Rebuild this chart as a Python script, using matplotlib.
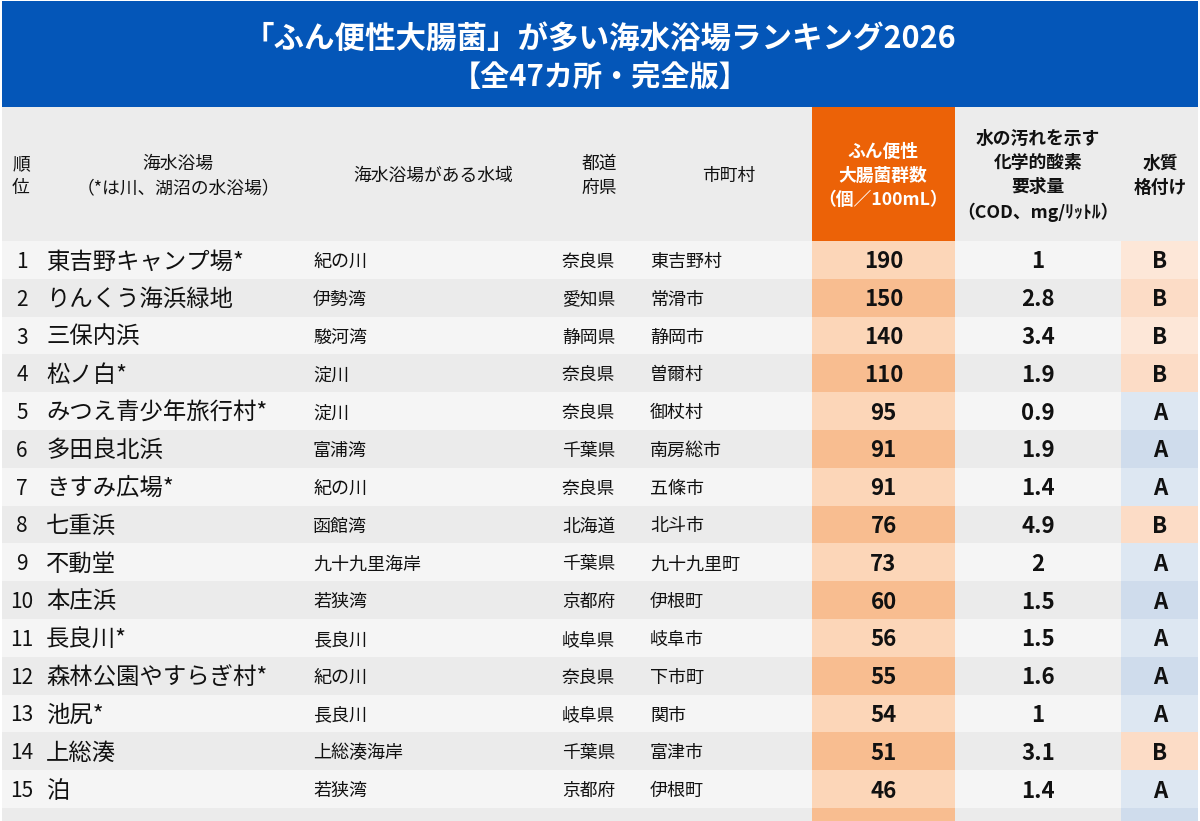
import matplotlib
matplotlib.use("Agg")
import matplotlib.pyplot as plt

plt.rcParams['font.family'] = ['Noto Sans CJK JP', 'DejaVu Sans']

# ---------------- data ----------------
title_line1 = "「ふん便性大腸菌」が多い海水浴場ランキング2026"
title_line2 = "【全47カ所・完全版】"

ranks = list(range(1, 16))
beaches = ["東吉野キャンプ場*", "りんくう海浜緑地", "三保内浜", "松ノ白*", "みつえ青少年旅行村*",
           "多田良北浜", "きすみ広場*", "七重浜", "不動堂", "本庄浜",
           "長良川*", "森林公園やすらぎ村*", "池尻*", "上総湊", "泊"]
waters = ["紀の川", "伊勢湾", "駿河湾", "淀川", "淀川",
          "富浦湾", "紀の川", "函館湾", "九十九里海岸", "若狭湾",
          "長良川", "紀の川", "長良川", "上総湊海岸", "若狭湾"]
prefs = ["奈良県", "愛知県", "静岡県", "奈良県", "奈良県",
         "千葉県", "奈良県", "北海道", "千葉県", "京都府",
         "岐阜県", "奈良県", "岐阜県", "千葉県", "京都府"]
cities = ["東吉野村", "常滑市", "静岡市", "曽爾村", "御杖村",
          "南房総市", "五條市", "北斗市", "九十九里町", "伊根町",
          "岐阜市", "下市町", "関市", "富津市", "伊根町"]
coliform = [190, 150, 140, 110, 95, 91, 91, 76, 73, 60, 56, 55, 54, 51, 46]
cod = ["1", "2.8", "3.4", "1.9", "0.9", "1.9", "1.4", "4.9", "2", "1.5",
       "1.5", "1.6", "1", "3.1", "1.4"]
grades = ["B", "B", "B", "B", "A", "A", "A", "B", "A", "A", "A", "A", "A", "B", "A"]
next_row_grade = "A"   # partially visible 16th row

headers = ["順\n位", "海水浴場\n（*は川、湖沼の水浴場）", "海水浴場がある水域", "都道\n府県", "市町村",
           "ふん便性\n大腸菌群数\n（個／100mL）", "水の汚れを示す\n化学的酸素\n要求量\n（COD、mg/ﾘｯﾄﾙ）",
           "水質\n格付け"]

# ---------------- layout / styles ----------------
W, H = 1200, 821
fig = plt.figure(figsize=(W / 100, H / 100), dpi=100)
ax = fig.add_axes([0, 0, 1, 1])
ax.set_xlim(0, W)
ax.set_ylim(H, 0)
ax.axis('off')
fig.patch.set_facecolor('white')

BLUE = '#0456b8'
HDR_GRAY = '#ececec'
ROW_ODD = '#f5f5f5'
ROW_EVEN = '#ebebeb'
ORANGE = '#ec6207'
CNT_ODD, CNT_EVEN = '#fcd6b8', '#f8bd90'
B_ODD, B_EVEN = '#fde7d8', '#fcdcc6'
A_ODD, A_EVEN = '#dde7f2', '#cfdcec'

left, right = 2, 1198
banner_top, banner_bot = 1, 107
hdr_top, hdr_bot = 107, 241
row_h = 37.8
dy = 2.0   # optical vertical offset for CJK text

# column geometry
cnt_l, cnt_r = 812, 955
grd_l = 1121

# banner
ax.barh((banner_top + banner_bot) / 2, right - left, left=left, height=banner_bot - banner_top,
        color=BLUE, edgecolor='none')
ax.text(600, 39, title_line1, color='white', fontsize=22, fontweight='bold', ha='center', va='center')
ax.text(600, 77, title_line2, color='white', fontsize=21, fontweight='bold', ha='center', va='center')

# header background
ax.barh((hdr_top + hdr_bot) / 2, right - left, left=left, height=hdr_bot - hdr_top,
        color=HDR_GRAY, edgecolor='none')
ax.barh((hdr_top + hdr_bot) / 2, cnt_r - cnt_l, left=cnt_l, height=hdr_bot - hdr_top,
        color=ORANGE, edgecolor='none')

hdr_x = [21, 178, 433, 599, 729, 883, 1038, 1160]
hdr_y = 176
for i, (hx, ht) in enumerate(zip(hdr_x, headers)):
    kw = dict(fontsize=12.8, ha='center', va='center', linespacing=1.45)
    if i == 5:
        ax.text(hx, hdr_y, ht, color='white', fontweight='bold', **kw)
    elif i in (6, 7):
        ax.text(hx, hdr_y, ht, color='#111111', fontweight='bold', **kw)
    else:
        ax.text(hx, hdr_y, ht, color='#111111', **kw)

# rows
n = len(ranks)
for i in range(n + 1):
    top = hdr_bot + i * row_h
    yc = top + row_h / 2
    odd = (i % 2 == 0)
    ax.barh(yc, cnt_l - left, left=left, height=row_h, color=ROW_ODD if odd else ROW_EVEN, edgecolor='none')
    ax.barh(yc, grd_l - cnt_r, left=cnt_r, height=row_h, color=ROW_ODD if odd else ROW_EVEN, edgecolor='none')
    ax.barh(yc, cnt_r - cnt_l, left=cnt_l, height=row_h, color=CNT_ODD if odd else CNT_EVEN, edgecolor='none')
    g = grades[i] if i < n else next_row_grade
    if g == 'B':
        gc = B_ODD if odd else B_EVEN
    else:
        gc = A_ODD if odd else A_EVEN
    ax.barh(yc, right - grd_l, left=grd_l, height=row_h, color=gc, edgecolor='none')
    if i >= n:
        continue
    tc = '#111111'
    ty = yc + dy
    ax.text(22, ty, str(ranks[i]), fontsize=15, ha='center', va='center', color=tc)
    ax.text(46, ty, beaches[i], fontsize=16.8, ha='left', va='center', color=tc)
    ax.text(313, ty, waters[i], fontsize=13, ha='left', va='center', color=tc)
    ax.text(562, ty, prefs[i], fontsize=12.8, ha='left', va='center', color=tc)
    ax.text(650, ty, cities[i], fontsize=13, ha='left', va='center', color=tc)
    ax.text((cnt_l + cnt_r) / 2, ty, str(coliform[i]), fontsize=16, fontweight='bold',
            ha='center', va='center', color=tc)
    ax.text(1038, ty, cod[i], fontsize=16, fontweight='bold', ha='center', va='center', color=tc)
    ax.text(1160, ty, grades[i], fontsize=16, fontweight='bold', ha='center', va='center', color=tc)

fig.savefig('out.png', dpi=100, facecolor='white')
